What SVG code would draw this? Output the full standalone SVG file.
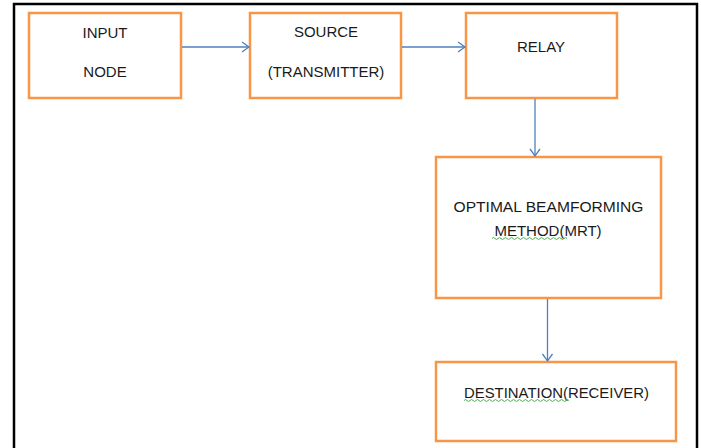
<svg xmlns="http://www.w3.org/2000/svg" width="701" height="448" viewBox="0 0 701 448">
<style>
.box{fill:#fff;stroke:#f79646;stroke-width:2.5}
.t{font-family:"Liberation Sans",Arial,sans-serif;font-size:15px;fill:#1a1a1a;text-anchor:middle}
.c{stroke:#4f81bd;stroke-width:1.3;fill:none}
.sq{stroke:#4caf50;stroke-width:1;fill:none}
</style>
<defs>
<marker id="ah" markerWidth="12" markerHeight="12" refX="10" refY="6" orient="auto" markerUnits="userSpaceOnUse">
<path d="M3,1 L10,6 L3,11" fill="none" stroke="#4f81bd" stroke-width="1.3"/>
</marker>
</defs>
<rect width="701" height="448" fill="#fff"/>
<path d="M14,448 V4 H697 V448" fill="none" stroke="#000" stroke-width="2.5"/>
<g id="input">
<rect class="box" x="29" y="13" width="152" height="85"/>
<text class="t" x="105" y="38">INPUT</text>
<text class="t" x="105" y="77">NODE</text>
</g>
<g id="source">
<rect class="box" x="250" y="13" width="151" height="85"/>
<text class="t" x="326" y="37">SOURCE</text>
<text class="t" x="326" y="77">(TRANSMITTER)</text>
</g>
<g id="relay">
<rect class="box" x="466" y="13" width="151" height="85"/>
<text class="t" x="541" y="52">RELAY</text>
</g>
<g id="optimal">
<rect class="box" x="436" y="157" width="225" height="141"/>
<text class="t" x="548.5" y="212" textLength="190" lengthAdjust="spacingAndGlyphs">OPTIMAL BEAMFORMING</text>
<text class="t" x="548" y="236">METHOD(MRT)</text>
<path class="sq" d="M492,238.5 q1.5,-2 3,0 t3,0 t3,0 t3,0 t3,0 t3,0 t3,0 t3,0 t3,0 t3,0 t3,0 t3,0 t3,0 t3,0 t3,0 t3,0 t3,0 t3,0 t3,0 t3,0 t3,0 t3,0 t3,0 t3,0 t3,0"/>
</g>
<g id="destination">
<rect class="box" x="436" y="362" width="240" height="79"/>
<text class="t" x="556.5" y="398" textLength="185" lengthAdjust="spacingAndGlyphs">DESTINATION(RECEIVER)</text>
<path class="sq" d="M464,400.5 q1.5,-2 3,0 t3,0 t3,0 t3,0 t3,0 t3,0 t3,0 t3,0 t3,0 t3,0 t3,0 t3,0 t3,0 t3,0 t3,0 t3,0 t3,0 t3,0 t3,0 t3,0 t3,0 t3,0 t3,0 t3,0 t3,0 t3,0 t3,0 t3,0 t3,0 t3,0 t3,0 t3,0 t3,0 t3,0 t3,0"/>
</g>
<g id="connectors">
<line class="c" x1="182" y1="47" x2="249" y2="47" marker-end="url(#ah)"/>
<line class="c" x1="402" y1="47" x2="465" y2="47" marker-end="url(#ah)"/>
<line class="c" x1="535" y1="99" x2="535" y2="156" marker-end="url(#ah)"/>
<line class="c" x1="547.5" y1="299" x2="547.5" y2="361" marker-end="url(#ah)"/>
</g>
</svg>
